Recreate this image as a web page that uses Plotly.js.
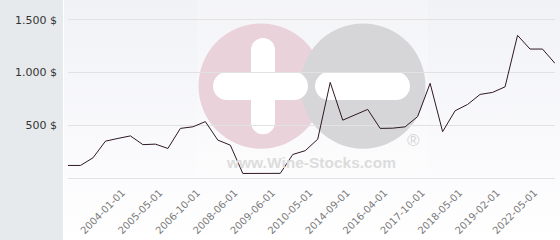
<!DOCTYPE html>
<html>
<head>
<meta charset="utf-8">
<script src="https://cdn.plot.ly/plotly-3.0.1.min.js"></script>
<style>
  html, body { margin: 0; padding: 0; background: #ffffff; }
  #chart {
    width: 560px; height: 240px;
    background:
      linear-gradient(to right, #e7eaed 0px, #e7eaed 63px, #ffffff 63px, #ffffff 64px, rgba(255,255,255,0) 64px),
      linear-gradient(to bottom, #f1f2f6 0%, #fbfbfd 70%, #ffffff 100%);
  }
</style>
</head>
<body>
<div id="chart"></div>
<script>
// Price series (one value per point, in $)
const prices = [119, 119, 191, 349, 375, 399, 316, 321, 280, 470,
                485, 534, 359, 311, 43, 44, 44, 44, 223, 259,
                368, 906, 548, 601, 650, 470, 472, 485, 582, 897,
                439, 637, 697, 792, 811, 864, 1352, 1222, 1222, 1086];
// Point index of each labelled date tick
const tickPositions = [4.35, 7.35, 10.35, 13.35, 16.35, 19.35, 22.35, 25.35, 28.35, 31.35, 34.35, 37.35];
const tickLabels = ["2004-01-01", "2005-05-01", "2006-10-01", "2008-06-01", "2009-06-01", "2010-05-01",
                    "2014-09-01", "2016-04-01", "2017-10-01", "2018-05-01", "2019-02-01", "2022-05-01"];
const yTickValues = [500, 1000, 1500];
const yTickLabels = ["500 $", "1.000 $", "1.500 $"];

const xIdx = prices.map((_, i) => i);

// pixel -> paper helpers for the watermark decoration
const L = 68, R = 555, T = 10, B = 177.8;
const px = x => (x - L) / (R - L);
const py = y => (B - y) / (B - T);
function circ(cx, cy, r, color) {
  return {type: 'circle', xref: 'paper', yref: 'paper', layer: 'below',
          x0: px(cx - r), x1: px(cx + r), y0: py(cy + r), y1: py(cy - r),
          fillcolor: color, line: {width: 0}};
}
function rect(x0, y0, x1, y1, color, op) {
  return {type: 'rect', xref: 'paper', yref: 'paper', layer: 'below',
          x0: px(x0), x1: px(x1), y0: py(y1), y1: py(y0),
          fillcolor: color, opacity: op === undefined ? 1 : op, line: {width: 0}};
}
function hbar(x0, x1, cy, h, color) {
  const r = h / 2;
  return [rect(x0 + r, cy - r, x1 - r, cy + r, color), circ(x0 + r, cy, r, color), circ(x1 - r, cy, r, color)];
}
function vbar(cx, y0, y1, w, color) {
  const r = w / 2;
  return [rect(cx - r, y0 + r, cx + r, y1 - r, color), circ(cx, y0 + r, r, color), circ(cx, y1 - r, r, color)];
}

const pink = '#ead2da', grey = '#d6d6d8', white = '#ffffff';
const shapes = [].concat(
  [rect(197, 0, 428, 174, '#ffffff', 0.22)],
  [circ(261, 86, 62.5, pink)],
  [circ(363, 86, 62.5, grey)],
  vbar(263, 38, 134, 24, white),
  hbar(213, 308, 86, 28, white),
  hbar(315, 410, 86, 28, white)
);

const trace = {
  x: xIdx, y: prices, type: 'scatter', mode: 'lines',
  line: {color: '#2f1824', width: 1},
  hoverinfo: 'skip'
};

const layout = {
  width: 560, height: 240,
  margin: {l: L, r: 560 - R, t: T, b: 240 - B},
  paper_bgcolor: 'rgba(0,0,0,0)', plot_bgcolor: 'rgba(0,0,0,0)',
  showlegend: false,
  font: {family: 'DejaVu Sans', size: 11, color: '#333333'},
  xaxis: {
    range: [0, prices.length - 1], showgrid: false, zeroline: false, showline: false,
    tickmode: 'array', tickvals: tickPositions, ticktext: tickLabels,
    tickangle: -45, ticks: '', ticklabelstandoff: 6,
    tickfont: {family: 'DejaVu Sans', size: 10, color: '#7a7a7a'},
    fixedrange: true
  },
  yaxis: {
    range: [0, (B - T) / 52.7 * 500], showgrid: true, gridcolor: '#e2e2e2', gridwidth: 1,
    zeroline: true, zerolinecolor: '#e2e2e2', zerolinewidth: 1, showline: false,
    tickmode: 'array', tickvals: yTickValues, ticktext: yTickLabels,
    ticks: '', ticklabelstandoff: 10,
    tickfont: {family: 'DejaVu Sans', size: 11, color: '#333333'},
    fixedrange: true
  },
  shapes: shapes,
  annotations: [
    {xref: 'paper', yref: 'paper', x: px(311), y: py(162), text: '<b>www.Wine-Stocks.com</b>',
     showarrow: false, font: {family: 'Liberation Sans', size: 15.5, color: '#dcdcdc'}, xanchor: 'center', yanchor: 'middle'},
    {xref: 'paper', yref: 'paper', x: px(413), y: py(140), text: '®',
     showarrow: false, font: {family: 'Liberation Sans', size: 17, color: '#d6d6d6'}, xanchor: 'center', yanchor: 'middle'}
  ]
};

Plotly.newPlot('chart', [trace], layout, {displayModeBar: false, staticPlot: true});
</script>
</body>
</html>
